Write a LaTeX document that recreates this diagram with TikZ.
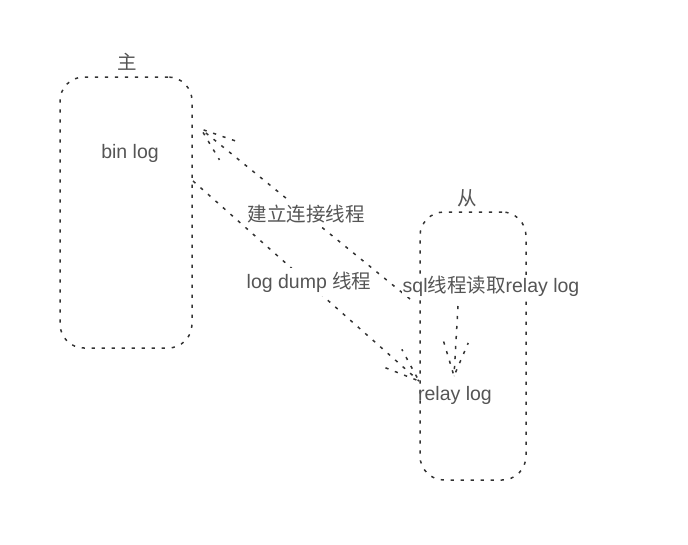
\documentclass[tikz,border=0pt]{standalone}
\usepackage{fontspec}
\setmainfont{Liberation Sans}
\newfontfamily\cjk{Noto Sans CJK SC}
\usetikzlibrary{calc}
\definecolor{linegray}{HTML}{333333}
\definecolor{textgray}{HTML}{555555}
\tikzset{
  dl/.style={draw=linegray, line width=1.5pt, dash pattern=on 3.2pt off 6.8pt},
  box/.style={dl, rectangle, rounded corners=24pt, inner sep=0pt},
  lbl/.style={text=textgray, font=\fontsize{19.5}{23}\selectfont, inner sep=2pt},
  wlbl/.style={lbl, fill=white, inner sep=4pt},
}
\newcommand{\openhead}[2]{%
  \draw[dl] ($(#1)!36pt!20:(#2)$) -- (#1) -- ($(#1)!36pt!-20:(#2)$);}
\begin{document}
\begin{tikzpicture}[x=1pt, y=-1pt]
\useasboundingbox[fill=white] (0,0) rectangle (688,544);
% boxes
\node[box, minimum width=132pt, minimum height=271pt] (master) at (126,212.5) {};
\node[box, minimum width=106pt, minimum height=268pt] (slave) at (473,346) {};
\node[lbl] (mlabel) at (127,62) {\cjk 主};
\node[lbl] (slabel) at (467,198) {\cjk 从};
% connector endpoints
\coordinate (s1) at (410,299);
\coordinate (t1) at (201,129);
\coordinate (s2) at (193,181);
\coordinate (t2) at (419,381);
\coordinate (s3) at (458,306);
\coordinate (t3) at (454,376);
% connectors
\draw[dl] (s1) -- (t1);
\openhead{t1}{s1}
\draw[dl] (s2) -- (t2);
\openhead{t2}{s2}
\draw[dl] (s3) -- (t3);
\openhead{t3}{s3}
% labels
\node[lbl] (binlog) at (130,153) {bin log};
\node[wlbl] (conn) at (306,214) {\cjk 建立连接线程};
\node[wlbl] (dump) at (309,282) {log dump {\cjk 线程}};
\node[lbl, fill=white, inner sep=1pt] (sql) at (491,286) {sql{\cjk 线程读取}relay log};
\node[lbl] (relay) at (455,395) {relay log};
\end{tikzpicture}
\end{document}
